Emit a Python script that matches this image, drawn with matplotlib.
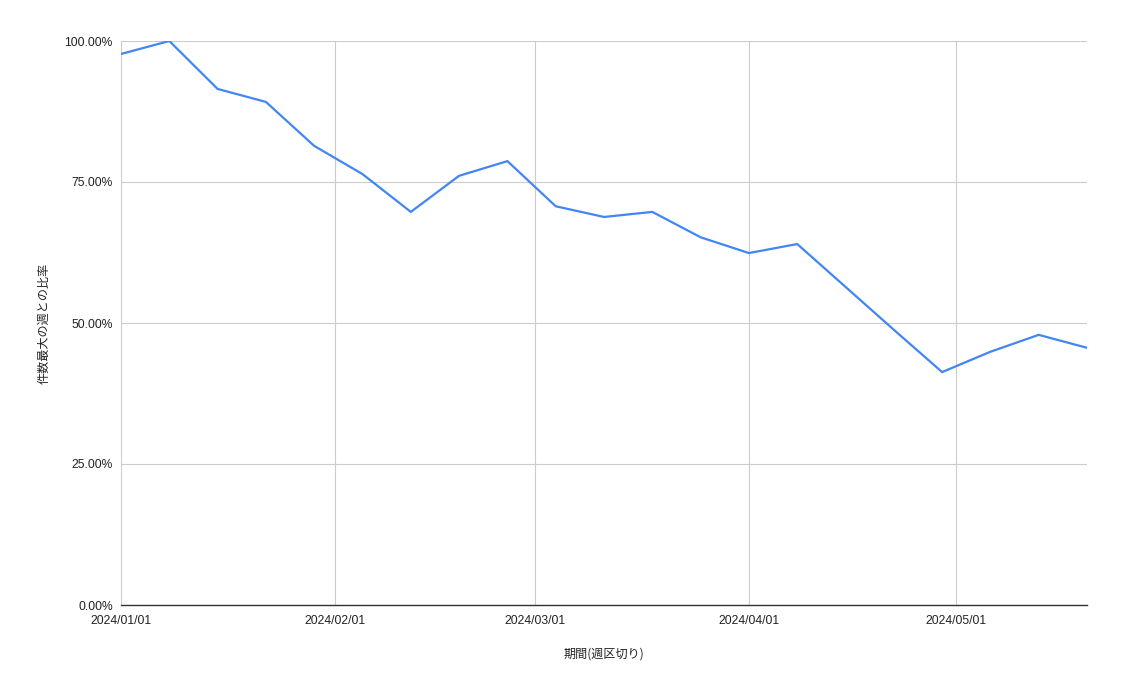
import numpy as np
import matplotlib
matplotlib.use("Agg")
import matplotlib.pyplot as plt
import matplotlib.dates as mdates
from matplotlib.ticker import FuncFormatter, MultipleLocator

plt.rcParams['font.family'] = ['Liberation Sans', 'Noto Sans CJK JP', 'DejaVu Sans']

# weekly data
weeks = np.arange(np.datetime64('2024-01-01'), np.datetime64('2024-05-27'), np.timedelta64(7, 'D'))
ratio = [97.7, 100.0, 91.5, 89.2, 81.4, 76.4, 69.7, 76.1, 78.7, 70.7, 68.8,
         69.7, 65.2, 62.4, 64.0, 56.4, 48.8, 41.3, 44.9, 47.9, 45.6]
month_ticks = np.array(['2024-01-01', '2024-02-01', '2024-03-01', '2024-04-01', '2024-05-01'],
                       dtype='datetime64[D]')

fig = plt.figure(figsize=(11.22, 6.94), dpi=100)
ax = fig.add_axes([121/1122, 1 - 605/694, (1087-121)/1122, (605-41)/694])

ax.plot(weeks.astype('datetime64[D]').astype(object), np.array(ratio) / 100,
        color='#4285F4', lw=1.6, solid_joinstyle='miter')

ax.set_xlim(weeks[0].astype(object), weeks[-1].astype(object))
ax.set_ylim(0, 1)
ax.set_xticks(month_ticks.astype(object))
ax.xaxis.set_major_formatter(mdates.DateFormatter('%Y/%m/%d'))
ax.yaxis.set_major_locator(MultipleLocator(0.25))
ax.yaxis.set_major_formatter(FuncFormatter(lambda v, p: f"{v*100:.2f}%"))

ax.grid(True, color='#cccccc', lw=0.8)
ax.set_axisbelow(True)
for s in ['top', 'right', 'left']:
    ax.spines[s].set_visible(False)
ax.spines['bottom'].set_color('#333333')
ax.spines['bottom'].set_linewidth(1.0)
ax.tick_params(length=0, labelsize=8.7, colors='#222222')
ax.tick_params(axis='y', pad=6)
ax.tick_params(axis='x', pad=7)

ax.set_xlabel('期間(週区切り)', fontsize=8.7, color='#222222', labelpad=15,
              family=['Noto Sans CJK JP', 'DejaVu Sans'])
ax.set_ylabel('件数最大の週との比率', fontsize=8.7, color='#222222', labelpad=10)

fig.savefig('out.png', dpi=100)
